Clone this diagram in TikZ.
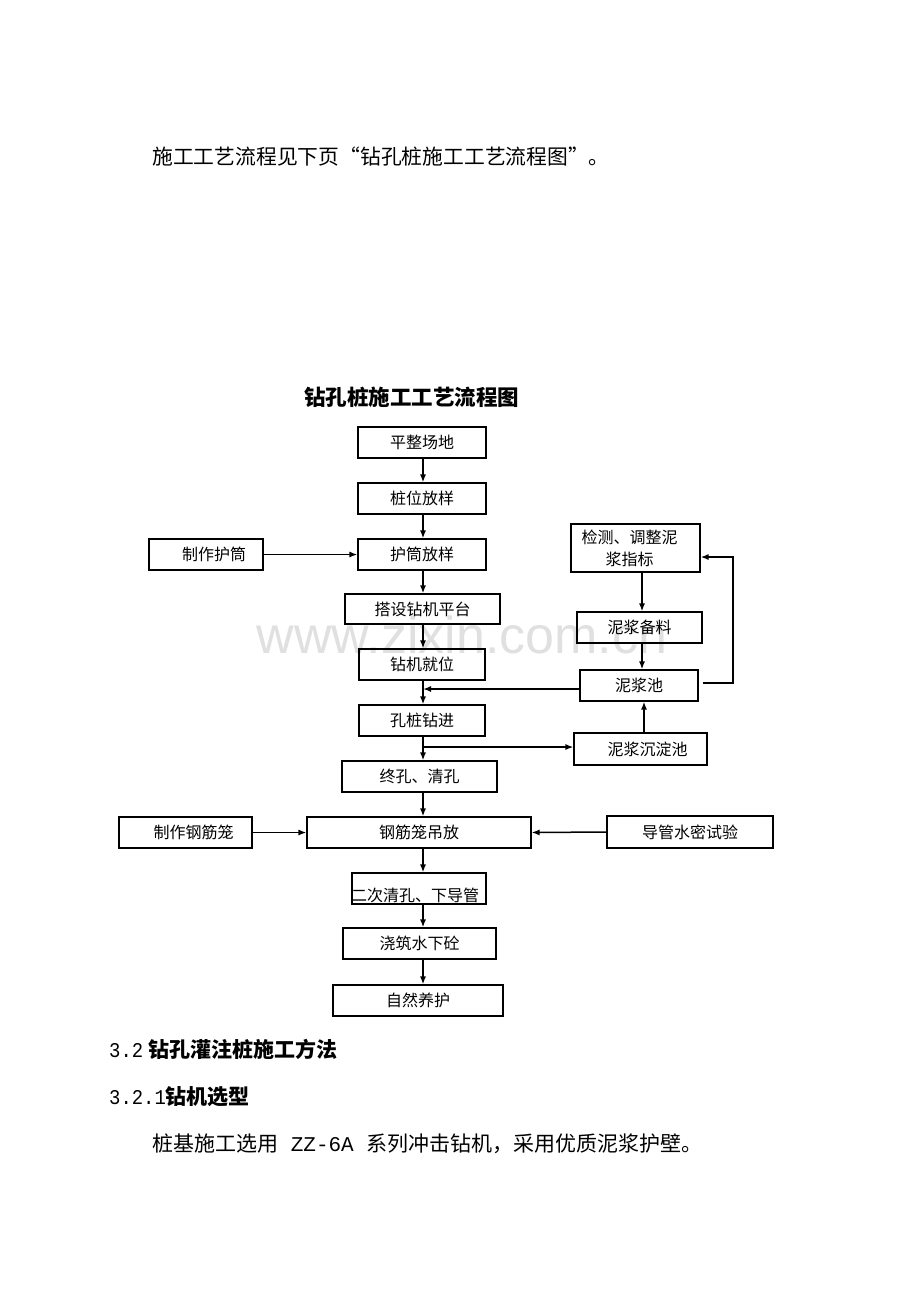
\documentclass[tikz,border=0pt]{standalone}
\usepackage{fontspec}
\setmainfont{Noto Sans CJK SC}
\setmonofont{Liberation Mono}
\newfontfamily\wmfont{Liberation Sans}
\usetikzlibrary{arrows.meta}

\begin{document}
\begin{tikzpicture}[x=1pt, y=-1pt,
  box/.style={draw, line width=1.1pt, inner sep=0pt, font=\fontsize{16}{22}\selectfont},
  txt/.style={inner sep=0pt, anchor=west, font=\fontsize{21}{24}\selectfont},
  head/.style={txt, font=\bfseries\fontsize{21}{24}\selectfont},
  arr/.style={-{Latex[length=8pt,width=6pt]}, line width=1.5pt}]
\useasboundingbox (0,0) rectangle (920,1302);
% watermark
\node[text=black!12, font=\wmfont\fontsize{52}{60}\selectfont] (wm) at (462,635) {www.zixin.com.cn};
% page text
\node[txt, font=\fontsize{20.8}{24}\selectfont\addfontfeature{RawFeature=+fwid}] (intro) at (152,157) {施工工艺流程见下页“钻孔桩施工工艺流程图”。};
\node[inner sep=0pt, font=\bfseries\fontsize{21.5}{24}\selectfont] (title) at (411.5,397) {钻孔桩施工工艺流程图};
\node[head] (sec) at (109,1049) {\scalebox{0.9}[1]{\ttfamily\mdseries 3.2}\hspace{5pt}钻孔灌注桩施工方法};
\node[head] (subsec) at (109,1097) {\scalebox{0.9}[1]{\ttfamily\mdseries 3.2.1}钻机选型};
\node[txt] (body) at (152,1144) {桩基施工选用{\ttfamily\ ZZ-6A\ }系列冲击钻机，采用优质泥浆护壁。};
% main column
\node[box, minimum width=128pt, minimum height=31pt] (pzcd) at (422,442.5) {平整场地};
\node[box, minimum width=128pt, minimum height=31pt] (zwfy) at (422,498.5) {桩位放样};
\node[box, minimum width=128pt, minimum height=31pt] (htfy) at (422,554.5) {护筒放样};
\node[box, minimum width=155pt, minimum height=30pt] (dspt) at (422.5,609) {搭设钻机平台};
\node[box, minimum width=126pt, minimum height=31pt] (zjjw) at (422,664.5) {钻机就位};
\node[box, minimum width=126pt, minimum height=31pt] (kzzj) at (422,720.5) {孔桩钻进};
\node[box, minimum width=155pt, minimum height=31pt] (zkqk) at (419.5,776.5) {终孔、清孔};
\node[box, minimum width=224pt, minimum height=31pt] (gldf) at (419,832.5) {钢筋笼吊放};
\node[box, minimum width=134pt, minimum height=31pt] (ecqk) at (419,888.5) {};
\node[inner sep=0pt, font=\fontsize{16}{22}\selectfont] (ecqkt) at (415,895) {二次清孔、下导管};
\node[box, minimum width=153pt, minimum height=31pt] (jzsx) at (419.5,943.5) {浇筑水下砼};
\node[box, minimum width=170pt, minimum height=31pt] (zryh) at (418,1000.5) {自然养护};
% side boxes
\node[box, minimum width=114pt, minimum height=31pt] (zzht) at (206,554.5) {\hspace*{16pt}制作护筒};
\node[box, minimum width=133pt, minimum height=31pt] (zzgl) at (185.5,832.5) {\hspace*{16pt}制作钢筋笼};
\node[box, minimum width=166pt, minimum height=32pt] (dgsy) at (690,832) {导管水密试验};
% mud circuit
\node[box, minimum width=129pt, minimum height=48pt, align=center] (jctz) at (635.5,548) {检测、调整泥\hspace*{12pt}\\浆指标\hspace*{12pt}};
\node[box, minimum width=125pt, minimum height=31pt] (njbl) at (639.5,627.5) {泥浆备料};
\node[box, minimum width=118pt, minimum height=31pt] (njc) at (639,685.5) {泥浆池};
\node[box, minimum width=133pt, minimum height=32pt] (cdc) at (640.5,749) {\hspace*{14pt}泥浆沉淀池};

\coordinate (axis) at (423,0);
\coordinate (mud) at (642,0);
\coordinate (loop) at (733,557);
% flow down
\draw[arr] (pzcd.south -| axis) -- (zwfy.north -| axis);
\draw[arr] (zwfy.south -| axis) -- (htfy.north -| axis);
\draw[arr] (htfy.south -| axis) -- (dspt.north -| axis);
\draw[arr] (dspt.south -| axis) -- (zjjw.north -| axis);
\draw[arr] (zjjw.south -| axis) -- (kzzj.north -| axis);
\draw[arr] (kzzj.south -| axis) -- (zkqk.north -| axis);
\draw[arr] (zkqk.south -| axis) -- (gldf.north -| axis);
\draw[arr] (gldf.south -| axis) -- (ecqk.north -| axis);
\draw[arr] (ecqk.south -| axis) -- (jzsx.north -| axis);
\draw[arr] (jzsx.south -| axis) -- (zryh.north -| axis);
% side inputs
\draw[arr] (zzht.east) -- (htfy.west);
\draw[arr] (zzgl.east) -- (gldf.west);
\draw[arr] (dgsy.west) -- (gldf.east);
% mud
\draw[arr] (jctz.south -| mud) -- (njbl.north -| mud);
\draw[arr] (njbl.south -| mud) -- (njc.north -| mud);
\draw[arr] ([xshift=2pt]cdc.north -| mud) -- ([xshift=2pt]njc.south -| mud);
\draw[arr] ([yshift=-3.5pt]njc.west) -- ([yshift=-3.5pt]njc.west -| axis);
\draw[arr] ([yshift=2pt]cdc.west -| axis) -- ([yshift=2pt]cdc.west);
\draw[arr] ([xshift=4pt,yshift=2.5pt]njc.east) -| (loop) -- (loop -| jctz.east);
\end{tikzpicture}
\end{document}
